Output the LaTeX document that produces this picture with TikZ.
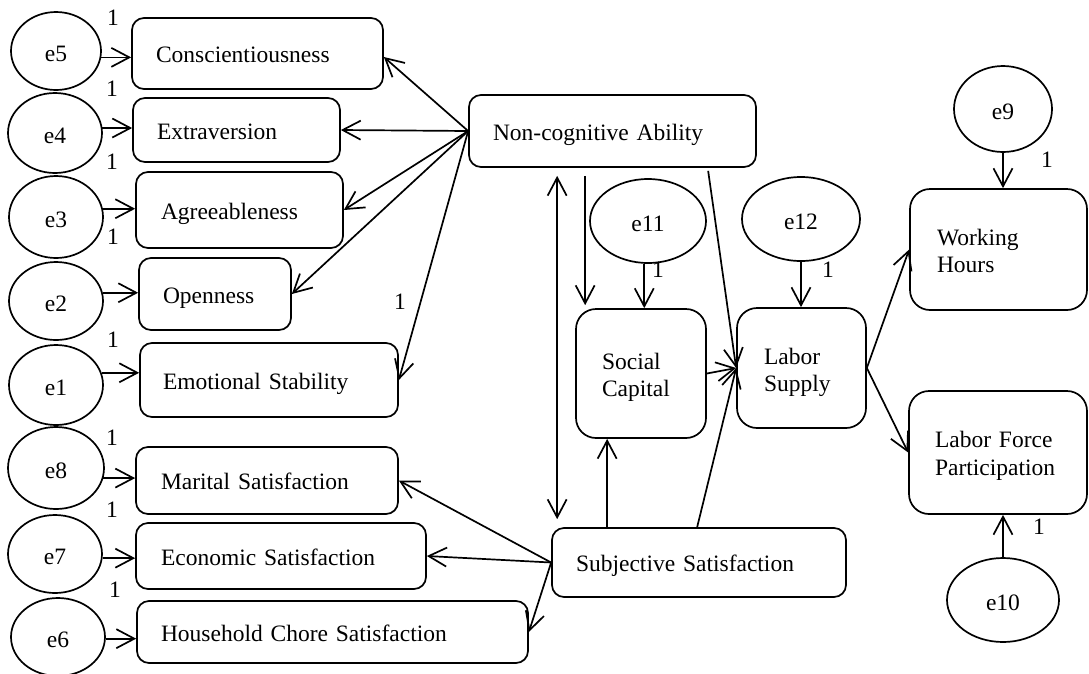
\documentclass[tikz,border=0pt]{standalone}
\usepackage{fontspec}
\setmainfont{Liberation Serif}
\usetikzlibrary{arrows.meta,shapes.geometric,calc}
\begin{document}
\begin{tikzpicture}[x=1pt,y=-1pt,
  font=\fontsize{23.5}{27.5}\selectfont,
  lw/.style={line width=1.7pt},
  box/.style={draw, lw, rounded corners=12pt, align=left, inner ysep=0pt},
  sbox/.style={box, text height=20pt, text depth=1.5pt},
  rbox/.style={box, rounded corners=20pt},
  ell/.style={draw, lw, ellipse, inner sep=0pt, text height=20pt, text depth=0pt},
  arr/.style={lw, -{Straight Barb[length=18pt,width=19pt]}},
  darr/.style={lw, {Straight Barb[length=18pt,width=19pt]}-{Straight Barb[length=18pt,width=19pt]}},
  one/.style={inner sep=0pt}]
\useasboundingbox (0,0) rectangle (1089,673);

% left boxes
\node[sbox, text width=203, inner xsep=24, minimum height=71] (cons) at (257.5,53.5) {Conscientiousness};
\node[sbox, text width=159, inner xsep=24, minimum height=64] (extra) at (236.5,130) {Extraversion};
\node[sbox, text width=157, inner xsep=25, minimum height=76] (agree) at (239.5,210) {Agreeableness};
\node[sbox, text width=104, inner xsep=24, minimum height=72] (open) at (215,294) {Openness};
\node[sbox, text width=212, inner xsep=23, minimum height=74] (emot) at (269,380) {Emotional Stability};
\node[sbox, text width=212, inner xsep=25, minimum height=67] (marital) at (267,480.5) {Marital Satisfaction};
\node[sbox, text width=240, inner xsep=25, minimum height=66] (econ) at (281,556) {Economic Satisfaction};
\node[sbox, text width=343, inner xsep=24, minimum height=62] (house) at (332.5,632) {Household Chore Satisfaction};

% middle boxes
\node[sbox, text width=239, inner xsep=24, minimum height=72] (noncog) at (612.5,131) {Non-cognitive Ability};
\node[rbox, text width=78, inner xsep=26, minimum height=129] (social) at (641,373.5) {\rule{0pt}{24pt}Social\\Capital};
\node[rbox, text width=75, inner xsep=27, minimum height=120] (labor) at (801.5,368) {\rule{0pt}{25pt}Labor\\Supply};
\node[sbox, text width=246, inner xsep=24, minimum height=69] (subj) at (699,562.5) {Subjective Satisfaction};

% right boxes
\node[rbox, text width=123, inner xsep=27, minimum height=121] (work) at (998.5,249.5) {\rule{0pt}{19pt}Working\\Hours};
\node[rbox, text width=126, inner xsep=26, minimum height=123] (lfp) at (998,452.5) {\rule{0pt}{23pt}Labor Force\\Participation};

% error ellipses
\node[ell, minimum width=90, minimum height=78] (e5) at (56,51) {e5};
\node[ell, minimum width=94, minimum height=80] (e4) at (55,133) {e4};
\node[ell, minimum width=94, minimum height=82] (e3) at (56,217) {e3};
\node[ell, minimum width=94, minimum height=78] (e2) at (56,301) {e2};
\node[ell, minimum width=94, minimum height=80] (e1) at (56,385) {e1};
\node[ell, minimum width=96, minimum height=82] (e8) at (56,468) {e8};
\node[ell, minimum width=94, minimum height=78] (e7) at (55,554) {e7};
\node[ell, minimum width=94, minimum height=78] (e6) at (58,637) {e6};
\node[ell, minimum width=116, minimum height=84] (e11) at (648,221) {e11};
\node[ell, minimum width=118, minimum height=84] (e12) at (801,219) {e12};
\node[ell, minimum width=98, minimum height=86] (e9) at (1003,109) {e9};
\node[ell, minimum width=112, minimum height=84] (e10) at (1003,600) {e10};

% error arrows (left)
\draw[arr] (e5.-8) -- (cons.west |- e5.-8);
\draw[arr] (e4.6) -- (extra.west |- e4.6);
\draw[arr] (e3.10) -- (agree.west |- e3.10);
\draw[arr] (e2.10) -- (open.west |- e2.10);
\draw[arr] (e1.15) -- (emot.west |- e1.15);
\draw[arr] (e8.-12) -- (marital.west |- e8.-12);
\draw[arr] (e7.-5) -- (econ.west |- e7.-5);
\draw[arr] (e6.-2) -- (house.west |- e6.-2);

% error arrows (middle/right)
\draw[arr] (e11.265) -- (e11.265 |- social.north);
\draw[arr] (e12.south) -- (e12.south |- labor.north);
\draw[arr] (e9.south) -- (e9.south |- work.north);
\draw[arr] (e10.north) -- (e10.north |- lfp.south);

% non-cognitive ability loadings
\draw[arr] (noncog.west) -- ([yshift=-3.5pt]cons.east);
\draw[arr] (noncog.west) -- (extra.east);
\draw[arr] (noncog.west) -- (agree.east);
\draw[arr] (noncog.west) -- (open.east);
\draw[arr] (noncog.west) -- (emot.east);

% subjective satisfaction loadings
\draw[arr] (subj.west) -- (marital.east);
\draw[arr] (subj.west) -- (econ.east);
\draw[arr] (subj.west) -- (house.east);

% structural paths
\draw[darr] ($(noncog.south west)+(89,8)$) -- ($(subj.north west)+(6,-8)$);
\draw[arr] ($(noncog.south west)+(117,8)$) -- ($(social.north west)+(10,-3)$);
\draw[arr] ($(noncog.south west)+(240,3)$) -- (labor.west);
\draw[arr] (social.east) -- (labor.west);
\draw[arr] ($(subj.north west)+(146,0)$) -- (labor.west);
\draw[arr] ($(subj.north west)+(56,0)$) -- ($(social.south west)+(32,0)$);
\draw[arr] (labor.east) -- (work.west);
\draw[arr] (labor.east) -- (lfp.west);

% labels "1"
\node[one] (l1) at (113,18) {1};
\node[one] (l2) at (112,89) {1};
\node[one] (l3) at (112,162) {1};
\node[one] (l4) at (113,237) {1};
\node[one] (l5) at (113,340) {1};
\node[one] (l6) at (112,438) {1};
\node[one] (l7) at (112,510) {1};
\node[one] (l8) at (115,590) {1};
\node[one] (l9) at (400,302) {1};
\node[one] (l10) at (658,270) {1};
\node[one] (l11) at (828,270) {1};
\node[one] (l12) at (1047,160) {1};
\node[one] (l13) at (1039,527) {1};
\end{tikzpicture}
\end{document}
